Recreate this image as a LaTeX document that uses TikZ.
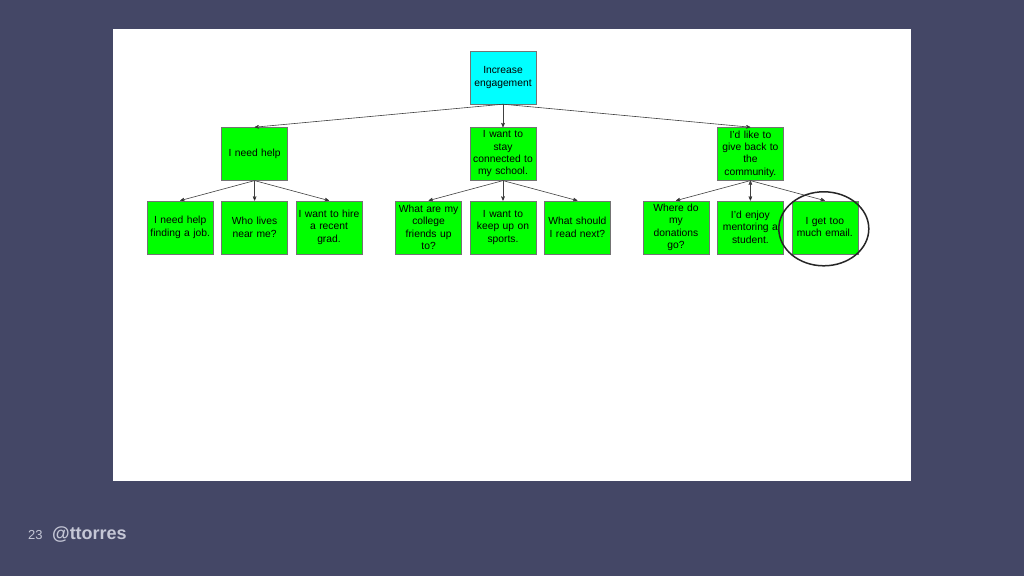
\documentclass[tikz,border=0pt]{standalone}
\usepackage{fontspec}
\setmainfont{Liberation Sans}
\usetikzlibrary{arrows,positioning}
\definecolor{slide}{HTML}{444766}
\definecolor{goal}{HTML}{00FFFF}
\definecolor{need}{HTML}{00FF00}
\definecolor{handle}{HTML}{C5C7D6}
\tikzset{
    %Define standard arrow tip
    >=stealth',
    %Define style for boxes
    goalbox/.style={
           rectangle,
           draw=black!55,
           fill=goal,
           minimum width=66pt,
           minimum height=53pt,
           text width=65pt,
           inner sep=0pt,
           align=center,
           font=\fontsize{10.3}{12.3}\selectfont},
    needbox/.style={
           goalbox,
           fill=need},
    % Define arrow style
    pil/.style={
           ->,
           draw=black!75,
           line width=0.6pt},
    footer/.style={
           anchor=base west,
           inner sep=0pt,
           text=handle}
}
\begin{document}
\begin{tikzpicture}[node distance=8pt]

 %slide
\fill[slide] (0pt,0pt) rectangle (1024pt,-576pt);
\useasboundingbox (0pt,0pt) rectangle (1024pt,-576pt);
\fill[white] (113pt,-29pt) rectangle (911pt,-481pt);

 %nodes
\node[goalbox](root) at (503pt,-77.5pt){Increase\\engagement};
\node[needbox, below=23pt of root](school){I want to\\stay\\connected to\\my school.};
\node[needbox, left=182pt of school](help){I need help};
\node[needbox, right=181pt of school](give){I'd like to\\give back to\\the\\community.};

\node[needbox, below=20pt of help](near){Who lives\\near me?};
\node[needbox, left=of near](job){I need help\\finding a job.};
\node[needbox, right=of near](hire){I want to hire\\a recent\\grad.};

\node[needbox, below=20pt of school](sports){I want to\\keep up on\\sports.};
\node[needbox, left=of sports](friends){What are my\\college\\friends up\\to?};
\node[needbox, right=of sports](read){What should\\I read next?};

\node[needbox, below=20pt of give](mentor){I'd enjoy\\mentoring a\\student.};
\node[needbox, left=of mentor](donate){Where do\\my\\donations\\go?};
\node[needbox, right=of mentor](email){I get too\\much email.};

 %edges
\path[pil]
    (root.south) edge (help.north) edge (school.north) edge (give.north)
    (help.south) edge (job.north) edge (near.north) edge (hire.north)
    (school.south) edge (friends.north) edge (sports.north) edge (read.north)
    (give.south) edge (donate.north) edge (mentor.north) edge (email.north);

 %highlight
\draw[line width=1.5pt, black!85] ([xshift=-1pt,yshift=-1.5pt]email.center) ellipse (45pt and 37pt);

 %footer
\node[footer, font=\fontsize{13}{16}\selectfont](page) at (28pt,-539pt){23};
\node[footer, font=\bfseries\fontsize{18}{20}\selectfont](author) at (52pt,-539pt){@ttorres};
\end{tikzpicture}
\end{document}
